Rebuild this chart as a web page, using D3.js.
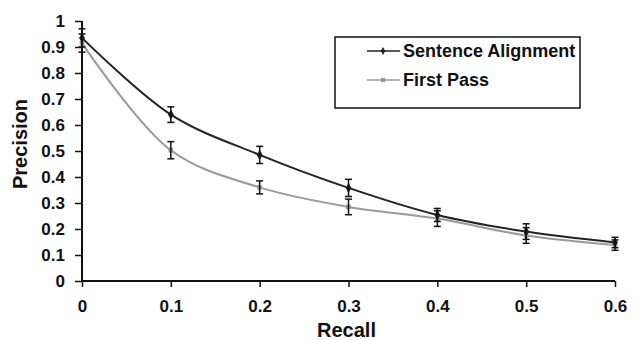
<!DOCTYPE html>
<html>
<head>
<meta charset="utf-8">
<script src="https://cdn.jsdelivr.net/npm/d3@7"></script>
<style>
  body { margin: 0; background: #fff; }
  text { font-family: "Liberation Sans", Arial, sans-serif; font-weight: bold; fill: #111; }
</style>
</head>
<body>
<svg id="chart" width="637" height="340"></svg>
<script>
const w = 637;
const h = 340;

// data
var recall = [0, 0.1, 0.2, 0.3, 0.4, 0.5, 0.6];
var sentenceAlign = [0.935, 0.64, 0.485, 0.358, 0.254, 0.19, 0.148];
var sentenceErr = [0.035, 0.03, 0.033, 0.033, 0.025, 0.03, 0.02];
var firstPass = [0.915, 0.503, 0.36, 0.285, 0.24, 0.175, 0.138];
var firstErr = [0.035, 0.033, 0.025, 0.03, 0.03, 0.03, 0.02];
var xTicks = [0, 0.1, 0.2, 0.3, 0.4, 0.5, 0.6];
var yTicks = [0, 0.1, 0.2, 0.3, 0.4, 0.5, 0.6, 0.7, 0.8, 0.9, 1];
var seriesNames = ["Sentence Alignment", "First Pass"];

var x = d3.scaleLinear().domain([0, 0.6]).range([82, 615]);
var y = d3.scaleLinear().domain([0, 1]).range([281, 21]);

var svg = d3.select("#chart");

// axes
var yAxis = svg.append("g")
  .attr("transform", "translate(82,0)")
  .call(d3.axisLeft(y).tickValues(yTicks).tickSize(7).tickPadding(10)
    .tickFormat(function (d) { return d === 0 || d === 1 ? d : d3.format(".1f")(d); }));
var xAxis = svg.append("g")
  .attr("transform", "translate(0,281)")
  .call(d3.axisBottom(x).tickValues(xTicks).tickSize(6).tickPadding(13)
    .tickFormat(function (d) { return d === 0 ? "0" : d3.format(".1f")(d); }));
[yAxis, xAxis].forEach(function (a) {
  a.select(".domain").attr("stroke", "#111").attr("stroke-width", 2);
  a.selectAll(".tick line").attr("stroke", "#111").attr("stroke-width", 1.5);
  a.selectAll(".tick text").attr("font-size", "17px").attr("font-family", "Liberation Sans, Arial, sans-serif")
    .attr("font-weight", "bold").attr("fill", "#111");
});
xAxis.select(".domain").attr("d", "M82,0H615");
yAxis.select(".domain").attr("d", "M0,281V21");

svg.append("text")
  .attr("transform", "translate(27,144) rotate(-90)")
  .attr("text-anchor", "middle")
  .attr("font-size", "20px")
  .text("Precision");
svg.append("text")
  .attr("x", x(0.3) - 2)
  .attr("y", 337)
  .attr("text-anchor", "middle")
  .attr("font-size", "20px")
  .text("Recall");

var series = [
  { name: seriesNames[0], values: sentenceAlign, err: sentenceErr, color: "#222", marker: "diamond" },
  { name: seriesNames[1], values: firstPass, err: firstErr, color: "#9a9a9a", marker: "square" }
];

// smoothed line like the original spreadsheet chart
var line = d3.line()
  .x(function (d, i) { return x(recall[i]); })
  .y(function (d) { return y(d); })
  .curve(d3.curveCatmullRom.alpha(0.5));

series.slice().reverse().forEach(function (s) {
  svg.append("path")
    .attr("d", line(s.values))
    .attr("fill", "none")
    .attr("stroke", s.color)
    .attr("stroke-width", 2);
  svg.selectAll(null)
    .data(s.values)
    .enter()
    .append("path")
    .attr("transform", function (d, i) { return "translate(" + x(recall[i]) + "," + y(d) + ")"; })
    .attr("d", d3.symbol().type(s.marker === "diamond" ? d3.symbolDiamond : d3.symbolSquare).size(s.marker === "diamond" ? 30 : 22))
    .attr("fill", s.color);
});

// error bars
series.forEach(function (s) {
  var g = svg.append("g").attr("stroke", "#111").attr("stroke-width", 1.5);
  s.values.forEach(function (v, i) {
    var cx = x(recall[i]);
    var top = y(v + s.err[i]);
    var bot = y(v - s.err[i]);
    g.append("line").attr("x1", cx).attr("x2", cx).attr("y1", top).attr("y2", bot);
    g.append("line").attr("x1", cx - 3.5).attr("x2", cx + 3.5).attr("y1", top).attr("y2", top);
    g.append("line").attr("x1", cx - 3.5).attr("x2", cx + 3.5).attr("y1", bot).attr("y2", bot);
  });
});

// legend
var legend = svg.append("g").attr("transform", "translate(335,37)");
legend.append("rect")
  .attr("width", 245).attr("height", 71)
  .attr("fill", "#fff").attr("stroke", "#111").attr("stroke-width", 1.5);
series.forEach(function (s, i) {
  var ly = 14 + i * 29;
  legend.append("line")
    .attr("x1", 32).attr("x2", 65).attr("y1", ly).attr("y2", ly)
    .attr("stroke", s.color).attr("stroke-width", 1.5);
  legend.append("path")
    .attr("transform", "translate(48," + ly + ")")
    .attr("d", d3.symbol().type(s.marker === "diamond" ? d3.symbolDiamond : d3.symbolSquare).size(18))
    .attr("fill", s.color);
  legend.append("text")
    .attr("x", 68).attr("y", ly + 6)
    .attr("font-size", "18px")
    .text(s.name);
});
</script>
</body>
</html>
